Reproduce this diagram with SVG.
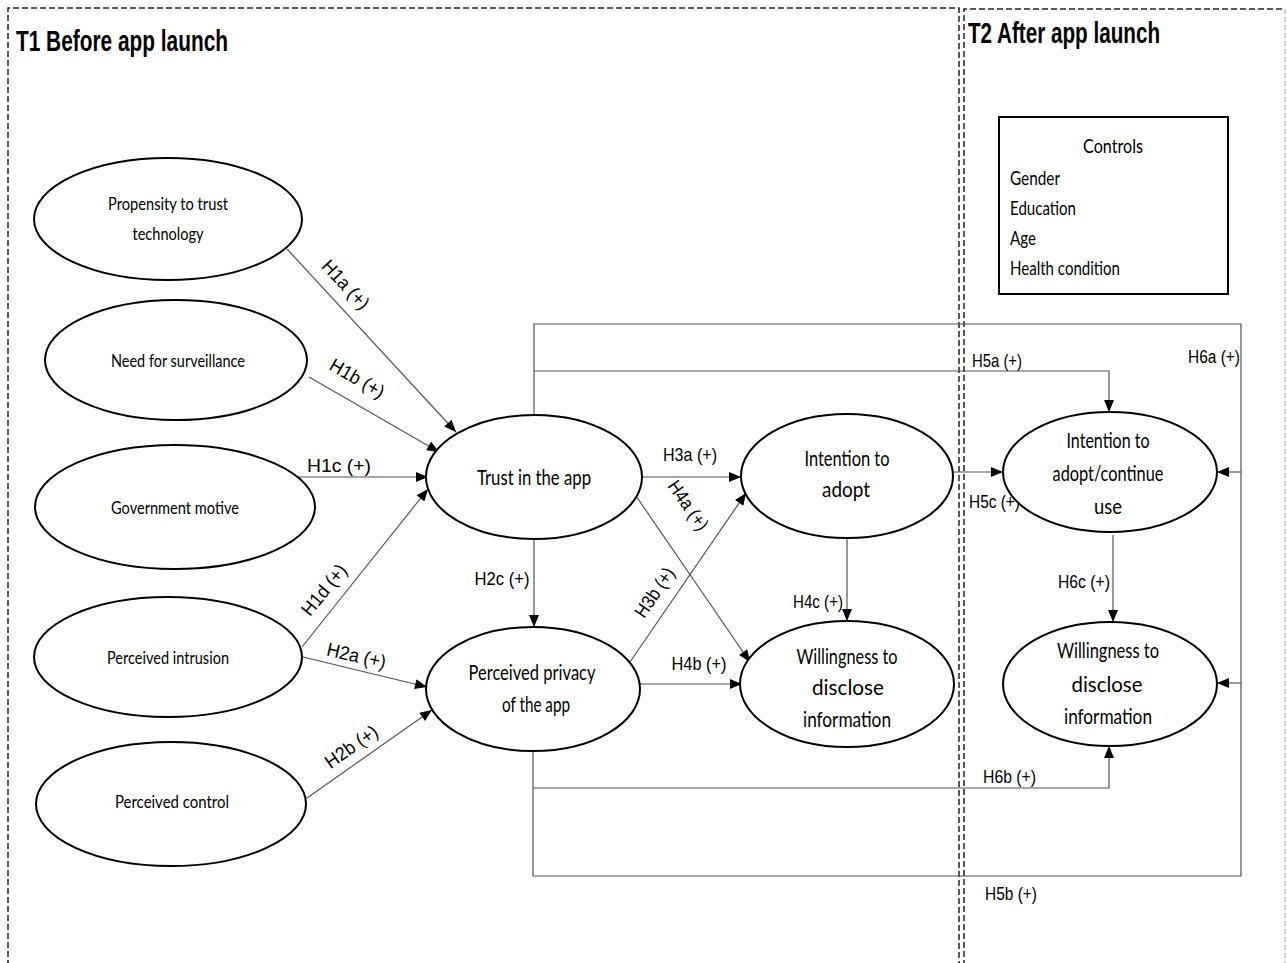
<svg xmlns="http://www.w3.org/2000/svg" width="1287" height="963" viewBox="0 0 1287 963">
<style>
.frame{fill:none;stroke:#222;stroke-width:1.5;stroke-dasharray:6,3}
.frame2{fill:none;stroke:#aaa;stroke-width:1;stroke-dasharray:5,3}
.node ellipse{fill:#fff;stroke:#000;stroke-width:2}
.nt{font-family:Lato,"Liberation Sans",sans-serif;fill:#000;text-anchor:middle}
.s{font-size:17px}
.b{font-size:21px}
.title{font-family:"Liberation Sans",Arial,sans-serif;font-weight:bold;font-size:29px;fill:#000}
.lbl{font-family:"Liberation Sans",Arial,sans-serif;font-size:19px;fill:#000}
.c{fill:none;stroke:#555;stroke-width:1.2}
.ct{font-family:Lato,"Liberation Sans",sans-serif;font-size:19px;fill:#000}
</style>
<defs>
<marker id="ah" viewBox="0 0 12 10" refX="12" refY="5" markerWidth="13" markerHeight="10" orient="auto" markerUnits="userSpaceOnUse"><path d="M0,0 L12,5 L0,10 z" fill="#000"/></marker>
</defs>
<rect width="1287" height="963" fill="#fff"/>
<g id="frames">
<path class="frame" d="M8,975 V8 H959 V975"/>
<path class="frame" d="M964,975 V9 H1285"/>
<path class="frame2" d="M1285,9 V975"/>
<text class="title" x="16" y="51" textLength="212" lengthAdjust="spacingAndGlyphs">T1 Before app launch</text>
<text class="title" x="968" y="43" textLength="192" lengthAdjust="spacingAndGlyphs">T2 After app launch</text>
</g>
<g id="controls">
<rect x="999" y="117" width="229" height="177" fill="#fff" stroke="#000" stroke-width="2"/>
<text class="ct" x="1083" y="153" font-size="21" textLength="60" lengthAdjust="spacingAndGlyphs">Controls</text>
<text class="ct" x="1010" y="185" textLength="50" lengthAdjust="spacingAndGlyphs">Gender</text>
<text class="ct" x="1010" y="215" textLength="66" lengthAdjust="spacingAndGlyphs">Education</text>
<text class="ct" x="1010" y="245" textLength="26" lengthAdjust="spacingAndGlyphs">Age</text>
<text class="ct" x="1010" y="275" textLength="110" lengthAdjust="spacingAndGlyphs">Health condition</text>
</g>
<g id="connectors">
<line class="c" x1="287" y1="249" x2="456" y2="432" marker-end="url(#ah)"/>
<line class="c" x1="309" y1="377" x2="439" y2="452" marker-end="url(#ah)"/>
<line class="c" x1="290" y1="477" x2="428" y2="477" marker-end="url(#ah)"/>
<line class="c" x1="302" y1="647" x2="428" y2="489" marker-end="url(#ah)"/>
<line class="c" x1="303" y1="657" x2="427" y2="687" marker-end="url(#ah)"/>
<line class="c" x1="307" y1="798" x2="432" y2="710" marker-end="url(#ah)"/>
<line class="c" x1="534" y1="539" x2="534" y2="627" marker-end="url(#ah)"/>
<line class="c" x1="642" y1="477" x2="741" y2="477" marker-end="url(#ah)"/>
<line class="c" x1="630" y1="662" x2="746" y2="493" marker-end="url(#ah)"/>
<line class="c" x1="636" y1="496" x2="750" y2="662" marker-end="url(#ah)"/>
<line class="c" x1="637" y1="684" x2="742" y2="684" marker-end="url(#ah)"/>
<line class="c" x1="847" y1="539" x2="847" y2="621" marker-end="url(#ah)"/>
<line class="c" x1="953" y1="472" x2="1003" y2="472" marker-end="url(#ah)"/>
<line class="c" x1="1113" y1="535" x2="1113" y2="622" marker-end="url(#ah)"/>
<path class="c" d="M534,415 V324 H1241 V876 H533 V750"/>
<path class="c" d="M534,371 H1109 V412" marker-end="url(#ah)"/>
<path class="c" d="M533,788 H1109 V746" marker-end="url(#ah)"/>
<line class="c" x1="1241" y1="472" x2="1217" y2="472" marker-end="url(#ah)"/>
<line class="c" x1="1241" y1="683" x2="1217" y2="683" marker-end="url(#ah)"/>
<g id="labels">
<text class="lbl" text-anchor="middle" transform="translate(341,289) rotate(47)" textLength="60" lengthAdjust="spacingAndGlyphs">H1a (+)</text>
<text class="lbl" text-anchor="middle" transform="translate(354,384) rotate(30)" textLength="60" lengthAdjust="spacingAndGlyphs">H1b (+)</text>
<text class="lbl" x="339" y="472" text-anchor="middle" textLength="64" lengthAdjust="spacingAndGlyphs">H1c (+)</text>
<text class="lbl" text-anchor="middle" transform="translate(329,594) rotate(-51)" textLength="60" lengthAdjust="spacingAndGlyphs">H1d (+)</text>
<text class="lbl" text-anchor="middle" transform="translate(355,662) rotate(13)" textLength="60" lengthAdjust="spacingAndGlyphs">H2a (+)</text>
<text class="lbl" text-anchor="middle" transform="translate(355,752) rotate(-35)" textLength="60" lengthAdjust="spacingAndGlyphs">H2b (+)</text>
<text class="lbl" x="502" y="585" text-anchor="middle" textLength="55" lengthAdjust="spacingAndGlyphs">H2c (+)</text>
<text class="lbl" x="690" y="461" text-anchor="middle" textLength="54" lengthAdjust="spacingAndGlyphs">H3a (+)</text>
<text class="lbl" text-anchor="middle" transform="translate(683,509) rotate(55)" textLength="56" lengthAdjust="spacingAndGlyphs">H4a (+)</text>
<text class="lbl" text-anchor="middle" transform="translate(660,596) rotate(-56)" textLength="56" lengthAdjust="spacingAndGlyphs">H3b (+)</text>
<text class="lbl" x="699" y="670" text-anchor="middle" textLength="55" lengthAdjust="spacingAndGlyphs">H4b (+)</text>
<text class="lbl" x="818" y="608" text-anchor="middle" textLength="50" lengthAdjust="spacingAndGlyphs">H4c (+)</text>
<text class="lbl" x="972" y="367" textLength="50" lengthAdjust="spacingAndGlyphs">H5a (+)</text>
<text class="lbl" x="1188" y="363" textLength="52" lengthAdjust="spacingAndGlyphs">H6a (+)</text>
<text class="lbl" x="969" y="508" textLength="51" lengthAdjust="spacingAndGlyphs">H5c (+)</text>
<text class="lbl" x="1058" y="588" textLength="52" lengthAdjust="spacingAndGlyphs">H6c (+)</text>
<text class="lbl" x="983" y="783" textLength="53" lengthAdjust="spacingAndGlyphs">H6b (+)</text>
<text class="lbl" x="985" y="900" textLength="52" lengthAdjust="spacingAndGlyphs">H5b (+)</text>
</g>
</g>
<g id="n-propensity" class="node"><ellipse cx="168" cy="219" rx="134" ry="61"/><text class="nt s" x="168" y="210" textLength="120" lengthAdjust="spacingAndGlyphs">Propensity to trust</text><text class="nt s" x="168" y="240" textLength="71" lengthAdjust="spacingAndGlyphs">technology</text></g>
<g id="n-need" class="node"><ellipse cx="176" cy="360" rx="131" ry="60"/><text class="nt s" x="178" y="367" textLength="134" lengthAdjust="spacingAndGlyphs">Need for surveillance</text></g>
<g id="n-gov" class="node"><ellipse cx="175" cy="507" rx="140" ry="62"/><text class="nt s" x="175" y="514" textLength="128" lengthAdjust="spacingAndGlyphs">Government motive</text></g>
<g id="n-intrusion" class="node"><ellipse cx="168" cy="657" rx="134" ry="60"/><text class="nt s" x="168" y="664" textLength="122" lengthAdjust="spacingAndGlyphs">Perceived intrusion</text></g>
<g id="n-control" class="node"><ellipse cx="171" cy="804" rx="135" ry="62"/><text class="nt s" x="172" y="808" textLength="114" lengthAdjust="spacingAndGlyphs">Perceived control</text></g>
<g id="n-trust" class="node"><ellipse cx="534" cy="477" rx="108" ry="62"/><text class="nt b" x="534" y="485" textLength="114" lengthAdjust="spacingAndGlyphs">Trust in the app</text></g>
<g id="n-privacy" class="node"><ellipse cx="533" cy="689" rx="107" ry="62"/><text class="nt b" x="532" y="680" textLength="127" lengthAdjust="spacingAndGlyphs">Perceived privacy</text><text class="nt b" x="536" y="712" textLength="68" lengthAdjust="spacingAndGlyphs">of the app</text></g>
<g id="n-intention" class="node"><ellipse cx="847" cy="476" rx="106" ry="62"/><text class="nt b" x="847" y="466" textLength="85" lengthAdjust="spacingAndGlyphs">Intention to</text><text class="nt b" x="846" y="497" textLength="48" lengthAdjust="spacingAndGlyphs">adopt</text></g>
<g id="n-willingness" class="node"><ellipse cx="847" cy="684" rx="107" ry="63"/><text class="nt b" x="847" y="664" textLength="101" lengthAdjust="spacingAndGlyphs">Willingness to</text><text class="nt b" x="848" y="695" textLength="72" lengthAdjust="spacingAndGlyphs">disclose</text><text class="nt b" x="847" y="727" textLength="88" lengthAdjust="spacingAndGlyphs">information</text></g>
<g id="n-intention2" class="node"><ellipse cx="1110" cy="472" rx="107" ry="60"/><text class="nt b" x="1108" y="448" textLength="83" lengthAdjust="spacingAndGlyphs">Intention to</text><text class="nt b" x="1108" y="481" textLength="111" lengthAdjust="spacingAndGlyphs">adopt/continue</text><text class="nt b" x="1108" y="514" textLength="28" lengthAdjust="spacingAndGlyphs">use</text></g>
<g id="n-willingness2" class="node"><ellipse cx="1110" cy="684" rx="107" ry="62"/><text class="nt b" x="1108" y="658" textLength="102" lengthAdjust="spacingAndGlyphs">Willingness to</text><text class="nt b" x="1107" y="692" textLength="71" lengthAdjust="spacingAndGlyphs">disclose</text><text class="nt b" x="1108" y="724" textLength="88" lengthAdjust="spacingAndGlyphs">information</text></g>
</svg>
